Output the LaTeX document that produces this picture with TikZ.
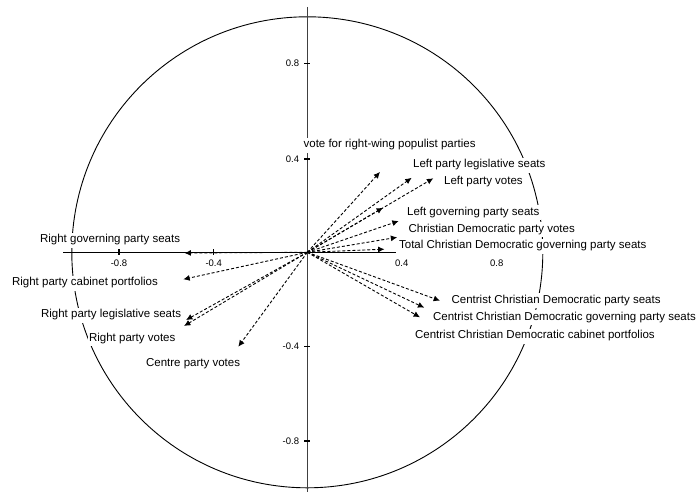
\documentclass[tikz,border=0pt]{standalone}
\usepackage{fontspec}
\setmainfont{Liberation Sans}
\usetikzlibrary{arrows.meta}
\begin{document}
\begin{tikzpicture}[x=0.5pt,y=-0.5pt,
  lbl/.style={anchor=west,fill=white,inner xsep=0.6pt,inner ysep=1pt,text height=4.2pt,text depth=1.3pt,font=\fontsize{5.75pt}{6.9pt}\selectfont},
  tickv/.style={anchor=east,inner sep=0.5pt,font=\fontsize{4.75pt}{5.7pt}\selectfont},
  tickh/.style={anchor=center,inner sep=0.5pt,font=\fontsize{4.75pt}{5.7pt}\selectfont},
  vec/.style={draw=black,line width=0.45pt,dash pattern=on 1.5pt off 1pt,-{Latex[length=3.2pt,width=3pt]}},
  axis/.style={draw=black,line width=0.55pt},
  circ/.style={draw=black,line width=0.45pt}]
\useasboundingbox (0,0) rectangle (699,492);
\coordinate (O) at (307.3,252.3);
% circle
\draw[circ] (O) circle [radius=235.5];
% axes
\coordinate (hl) at (63,252.3);
\coordinate (hr) at (396,252.3);
\coordinate (vt) at (307.3,7);
\coordinate (vb) at (307.3,492);
\draw[axis] (hl) -- (hr);
\draw[axis,draw=black!75] (vt) -- (vb);
% ticks
\foreach \y/\t/\n in {63.3/0.8/a,159/0.4/b,346.7/-0.4/c,441/-0.8/d}{
  \draw[axis] (304.3,\y) -- (310.3,\y);
  \node[tickv] (tv\n) at (300.5,\y) {\t};
}
\foreach \x/\t/\n in {119/-0.8/a,213.7/-0.4/b}{
  \draw[axis] (\x,249.3) -- (\x,255.3);
  \node[tickh] (th\n) at (\x,263.5) {\t};
}
\node[tickh] (thc) at (401.7,263.5) {0.4};
\node[tickh] (thd) at (496.7,263.5) {0.8};
% labels
\node[lbl] (l1) at (302,145) {vote for right-wing populist parties};
\node[lbl] (l2) at (411.5,165) {Left party legislative seats};
\node[lbl] (l3) at (442.5,181.5) {Left party votes};
\node[lbl] (l4) at (405.5,212.5) {Left governing party seats};
\node[lbl] (l5) at (407,229.5) {Christian Democratic party votes};
\node[lbl] (l6) at (397.5,246) {Total Christian Democratic governing party seats};
\node[lbl] (l7) at (450,300.5) {Centrist Christian Democratic party seats};
\node[lbl] (l8) at (431.5,317.5) {Centrist Christian Democratic governing party seats};
\node[lbl] (l9) at (413.5,336) {Centrist Christian Democratic cabinet portfolios};
\node[lbl] (l10) at (38.5,240) {Right governing party seats};
\node[lbl] (l11) at (10.5,283) {Right party cabinet portfolios};
\node[lbl] (l12) at (39.5,315) {Right party legislative seats};
\node[lbl] (l13) at (87.5,338.5) {Right party votes};
\node[lbl] (l14) at (144.5,364) {Centre party votes};
% vector tips
\coordinate (t1) at (380,172);
\coordinate (t2) at (411.7,177.8);
\coordinate (t3) at (433.3,178.3);
\coordinate (t4) at (383,207.7);
\coordinate (t5) at (398.7,221);
\coordinate (t6) at (397.2,237.3);
\coordinate (t7) at (384.5,249.2);
\coordinate (t8) at (440,300.7);
\coordinate (t9) at (424.3,307.7);
\coordinate (t10) at (420,317.3);
\coordinate (t11) at (184.5,253);
\coordinate (t12) at (183.3,279.3);
\coordinate (t13) at (186,320);
\coordinate (t14) at (184,326);
\coordinate (t15) at (238.3,346.7);
\foreach \i in {1,...,15}{ \draw[vec] (O) -- (t\i); }
\end{tikzpicture}
\end{document}
